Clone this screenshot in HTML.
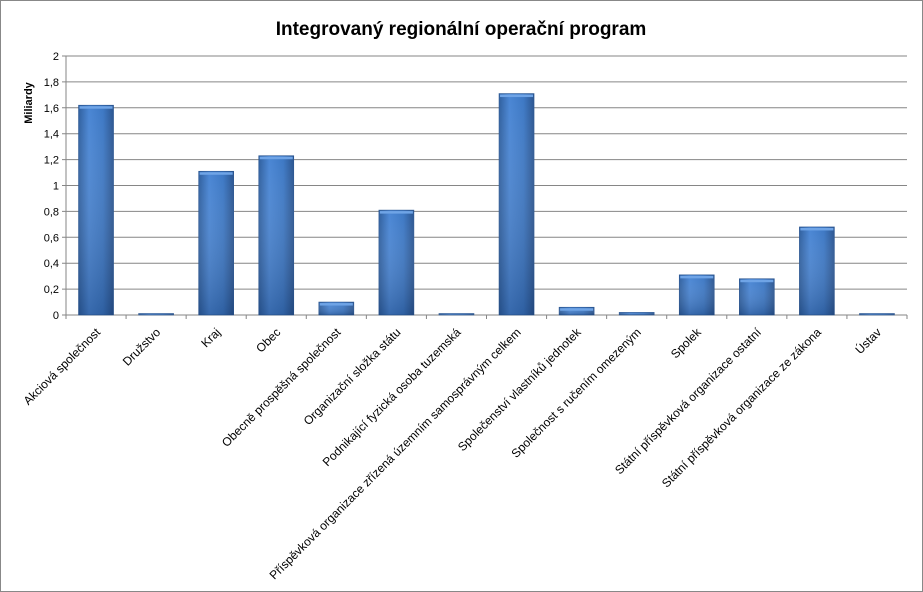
<!DOCTYPE html>
<html><head><meta charset="utf-8"><style>
body{margin:0;background:#fff}
svg{display:block;font-family:"Liberation Sans",sans-serif}
</style></head><body>
<svg id="chart" width="923" height="592" viewBox="0 0 923 592">
<defs>
<linearGradient id="bg" x1="0" x2="1" y1="0" y2="0">
<stop offset="0" stop-color="#2f5f9e"/><stop offset="0.3" stop-color="#4a86d4"/><stop offset="0.7" stop-color="#3d78c4"/><stop offset="1" stop-color="#2b5590"/>
</linearGradient>
<linearGradient id="vg" x1="0" x2="0" y1="0" y2="1">
<stop offset="0" stop-color="#fff" stop-opacity="0"/><stop offset="1" stop-color="#0a2550" stop-opacity="0.3"/>
</linearGradient>
</defs>
<rect x="0.5" y="0.5" width="922" height="591" fill="#fff" stroke="#888"/>
<text x="461" y="35" text-anchor="middle" font-size="19" font-weight="bold">Integrovaný regionální operační program</text>
<text transform="translate(32,103) rotate(-90)" font-size="11" font-weight="bold" text-anchor="middle">Miliardy</text>
<g id="grid"></g><g id="bars"></g><g id="labels"></g>
</svg>
<script>
const categories=["Akciová společnost","Družstvo","Kraj","Obec","Obecně prospěšná společnost","Organizační složka státu","Podnikající fyzická osoba tuzemská","Příspěvková organizace zřízená územním samosprávným celkem","Společenství vlastníků jednotek","Společnost s ručením omezeným","Spolek","Státní příspěvková organizace ostatní","Státní příspěvková organizace ze zákona","Ústav"];
const values=[1.62,0.005,1.11,1.23,0.1,0.81,0.003,1.71,0.06,0.02,0.31,0.28,0.68,0.005];
const ticks=[0,0.2,0.4,0.6,0.8,1,1.2,1.4,1.6,1.8,2];
const tickLabels=["0","0,2","0,4","0,6","0,8","1","1,2","1,4","1,6","1,8","2"];
const NS="http://www.w3.org/2000/svg";
const L=66,R=907,T=56,B=315,yMax=2;
const y=v=>B-(v/yMax)*(B-T);
const cw=(R-L)/categories.length;
const x=i=>L+cw*(i+0.5);
function mk(t,a,p){const e=document.createElementNS(NS,t);for(const k in a)e.setAttribute(k,a[k]);p.appendChild(e);return e;}
const g=document.getElementById('grid'),gb=document.getElementById('bars'),gl=document.getElementById('labels');
ticks.forEach((t,i)=>{
 const ln=mk('line',{x1:L-4,x2:R,y1:y(t),y2:y(t),stroke:'#868686','stroke-width':1},g);
 
 
 const tx=mk('text',{x:L-7,y:y(t)+4,'text-anchor':'end','font-size':11},g);
 tx.textContent=tickLabels[i];
 
 
});
const ax=mk('line',{x1:L,x2:L,y1:T,y2:B,stroke:'#868686'},g);


for(let i=0;i<=categories.length;i++){
 const tk=mk('line',{x1:L+cw*i,x2:L+cw*i,y1:B,y2:B+4,stroke:'#868686'},g);
 
 
}
const bw=35;
values.forEach((v,i)=>{
 const top=y(v),h=Math.max(B-top,1.5);
 const r=mk('rect',{x:x(i)-bw/2,y:B-h,width:bw,height:h,fill:'url(#bg)',stroke:'#2a5590','stroke-width':0.6},gb);
 
 
 const s=mk('rect',{x:x(i)-bw/2,y:B-h,width:bw,height:h,fill:'url(#vg)'},gb);
 
 
 if(h>4){const hl=mk('rect',{x:x(i)-bw/2+1,y:B-h+1,width:bw-2,height:2.5,fill:'#6fa4e6'},gb);
 
 }
 const t=mk('text',{transform:`translate(${x(i)+5},${B+18}) rotate(-45)`,'text-anchor':'end','font-size':12},gl);
 t.textContent=categories[i];
 
 
});
</script>
</body></html>
